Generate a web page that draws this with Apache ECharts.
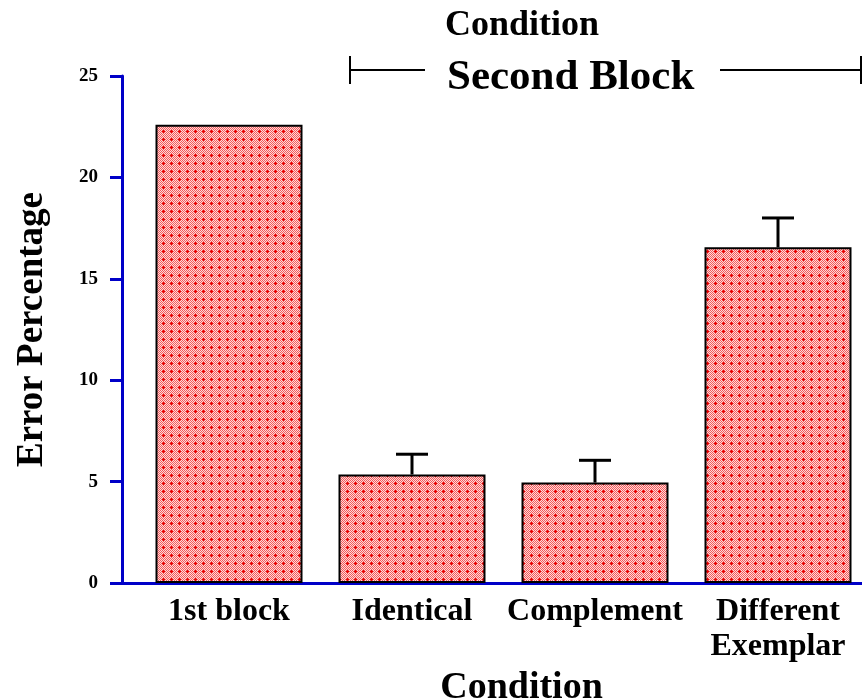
<!DOCTYPE html>
<html><head><meta charset="utf-8">
<script src="https://cdn.jsdelivr.net/npm/echarts@6/dist/echarts.min.js"></script>
<style>html,body{margin:0;padding:0;background:#fff}#c{width:862px;height:698px}</style>
</head><body><div id="c"></div>
<script>
const categories = ['1st block', 'Identical', 'Complement', 'Different\nExemplar'];
const errorPct = [22.6, 5.35, 4.95, 16.55];
const errorBar = [null, 1.0, 1.1, 1.45];
const yTicks = [0, 5, 10, 15, 20, 25];

// fill pattern (red/white dither with crosses)
const pc = document.createElement('canvas');
pc.width = 8; pc.height = 8;
const g = pc.getContext('2d');
for (let x = 0; x < 8; x++) for (let y = 0; y < 8; y++) {
  g.fillStyle = ((x + y) % 2 === 0) ? '#f25a5a' : '#ffd8d8';
  g.fillRect(x, y, 1, 1);
}
g.fillStyle = '#e80000';
g.fillRect(3, 2, 1, 3); g.fillRect(2, 3, 3, 1);

const font = '"Liberation Serif", "Times New Roman", serif';
const blue = '#0000c8';
const chart = echarts.init(document.getElementById('c'));
chart.setOption({
  animation: false,
  backgroundColor: '#fff',
  grid: [
    { left: 137.5, top: 76, width: 732, bottom: 115, containLabel: false, outerBoundsMode: 'none' },
    { left: 122, top: 76, width: 740, bottom: 115, containLabel: false, outerBoundsMode: 'none' }
  ],
  xAxis: [{
    type: 'category', data: categories,
    axisLine: { lineStyle: { color: blue, width: 3 } },
    axisTick: { show: false },
    axisLabel: { interval: 0, hideOverlap: false, color: '#000', fontFamily: font, fontWeight: 'bold', fontSize: 32, margin: 11, lineHeight: 35 },
    name: 'Condition', nameLocation: 'middle', nameGap: 86,
    nameTextStyle: { color: '#000', fontFamily: font, fontWeight: 'bold', fontSize: 38, padding: [0, 0, 0, 36] }
  }, {
    gridIndex: 1, type: 'value', min: 0, max: 1,
    axisLine: { show: true, lineStyle: { color: blue, width: 3 } },
    axisTick: { show: false }, axisLabel: { show: false }, splitLine: { show: false }
  }],
  yAxis: [{
    type: 'value', min: yTicks[0], max: yTicks[yTicks.length - 1], interval: 5,
    offset: 15.5,
    splitLine: { show: false },
    axisLine: { show: true, lineStyle: { color: blue, width: 3 } },
    axisTick: { show: true, length: 12, lineStyle: { color: blue, width: 3 } },
    axisLabel: { color: '#000', fontFamily: font, fontWeight: 'bold', fontSize: 19, margin: 24 },
    name: 'Error Percentage', nameLocation: 'middle', nameGap: 71, nameRotate: 90,
    nameTextStyle: { color: '#000', fontFamily: font, fontWeight: 'bold', fontSize: 37 }
  }, {
    gridIndex: 1, type: 'value', show: false, min: 0, max: 1
  }],
  series: [
    {
      type: 'bar', data: errorPct, barWidth: 147,
      itemStyle: { color: { image: pc, repeat: 'repeat' }, borderColor: '#000', borderWidth: 2 }
    },
    {
      type: 'custom', z: 5,
      data: errorPct.map((v, i) => [i, v, errorBar[i]]),
      renderItem: function (params, api) {
        const e = api.value(2);
        if (!e) return null;
        const p0 = api.coord([api.value(0), api.value(1)]);
        const p1 = api.coord([api.value(0), api.value(1) + e]);
        const st = { stroke: '#000', lineWidth: 3 };
        return { type: 'group', children: [
          { type: 'line', shape: { x1: p0[0], y1: p0[1], x2: p1[0], y2: p1[1] }, style: st },
          { type: 'line', shape: { x1: p1[0] - 16, y1: p1[1], x2: p1[0] + 16, y2: p1[1] }, style: st }
        ]};
      }
    }
  ],
  graphic: [
    { type: 'text', left: 445, top: 8, style: { text: 'Condition', font: 'bold 36px ' + font, fill: '#000' } },
    { type: 'text', left: 447, top: 56, style: { text: 'Second Block', font: 'bold 43px ' + font, fill: '#000' } },
    { type: 'line', shape: { x1: 349, y1: 70, x2: 425, y2: 70 }, style: { stroke: '#000', lineWidth: 2 } },
    { type: 'line', shape: { x1: 350, y1: 56, x2: 350, y2: 84 }, style: { stroke: '#000', lineWidth: 2 } },
    { type: 'line', shape: { x1: 720, y1: 70, x2: 862, y2: 70 }, style: { stroke: '#000', lineWidth: 2 } },
    { type: 'line', shape: { x1: 861, y1: 56, x2: 861, y2: 84 }, style: { stroke: '#000', lineWidth: 2 } }
  ]
});
</script></body></html>
